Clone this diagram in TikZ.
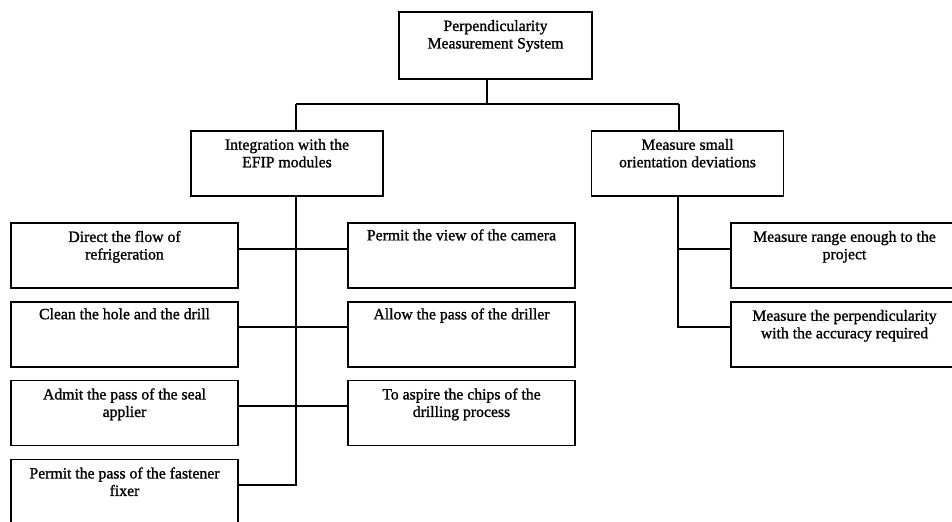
\documentclass[tikz,border=0pt]{standalone}
\usepackage{fontspec}
\setmainfont[FakeBold=1.2,AutoFakeBold=1.2]{Liberation Serif}
\begin{document}
\begin{tikzpicture}[x=0.75pt,y=-0.75pt,
  box/.style={draw=black, line width=1.1pt, inner sep=0pt, minimum height=49pt},
  midbox/.style={box, minimum width=144pt},
  leafbox/.style={box, minimum width=170.25pt},
  txt/.style={anchor=north, inner sep=0pt, align=center, font=\fontsize{11.8}{13.1}\selectfont\bfseries},
  conn/.style={draw=black, line width=1.1pt}]
\useasboundingbox (0,0) rectangle (952,521);
\clip (0,0) rectangle (952,521);
% boxes
\node[box, minimum width=144.75pt, minimum height=50.25pt] (top) at (495.5,45.5) {};
\node[midbox] (ml) at (287,163.5) {};
\node[midbox] (mr) at (687.5,163.5) {};
\node[leafbox] (L1) at (124.5,255.5) {};
\node[leafbox] (L2) at (124.5,334.5) {};
\node[leafbox] (L3) at (124.5,413) {};
\node[leafbox] (L4) at (124.5,492) {};
\node[leafbox] (C1) at (461.5,255.5) {};
\node[leafbox] (C2) at (461.5,334.5) {};
\node[leafbox] (C3) at (461.5,413) {};
\node[leafbox] (R1) at (844.5,255.5) {};
\node[leafbox] (R2) at (844.5,334.5) {};
% texts
\node[txt] (ttop) at ([yshift=-6.4pt]top.north) {Perpendicularity\\Measurement System};
\node[txt] (tml) at ([yshift=-6.4pt]ml.north) {Integration with the\\EFIP modules};
\node[txt] (tmr) at ([yshift=-6.4pt]mr.north) {Measure small\\orientation deviations};
\node[txt] (tL1) at ([yshift=-6.4pt]L1.north) {Direct the flow of\\refrigeration};
\node[txt] (tL2) at ([yshift=-5.2pt]L2.north) {Clean the hole and the drill};
\node[txt] (tL3) at ([yshift=-6.4pt]L3.north) {Admit the pass of the seal\\applier};
\node[txt] (tL4) at ([yshift=-6.4pt]L4.north) {Permit the pass of the fastener\\fixer};
\node[txt] (tC1) at ([yshift=-5.2pt]C1.north) {Permit the view of the camera};
\node[txt] (tC2) at ([yshift=-5.2pt]C2.north) {Allow the pass of the driller};
\node[txt] (tC3) at ([yshift=-6.4pt]C3.north) {To aspire the chips of the\\drilling process};
\node[txt] (tR1) at ([yshift=-6.4pt]R1.north) {Measure range enough to the\\project};
\node[txt] (tR2) at ([yshift=-6.4pt]R2.north) {Measure the perpendicularity\\with the accuracy required};
% junction coordinates
\coordinate (j) at (487,104);
\coordinate (jl) at (296,104);
\coordinate (jr) at (679,104);
\coordinate (vl) at (296,485);
\coordinate (vr) at (678,327);
\coordinate (y1) at (0,249);
\coordinate (y2) at (0,327);
\coordinate (y3) at (0,406);
% connectors
\draw[conn] (top.south -| j) -- (j);
\draw[conn] (jl) -- (jr);
\draw[conn] (jl) -- (jl |- ml.north);
\draw[conn] (jr) -- (jr |- mr.north);
\draw[conn] (ml.south -| vl) -- (vl) -- (vl -| L4.east);
\draw[conn] (L1.east |- y1) -- (C1.west |- y1);
\draw[conn] (L2.east |- y2) -- (C2.west |- y2);
\draw[conn] (L3.east |- y3) -- (C3.west |- y3);
\draw[conn] (mr.south -| vr) -- (vr) -- (vr -| R2.west);
\draw[conn] (vr |- y1) -- (R1.west |- y1);
\end{tikzpicture}
\end{document}
